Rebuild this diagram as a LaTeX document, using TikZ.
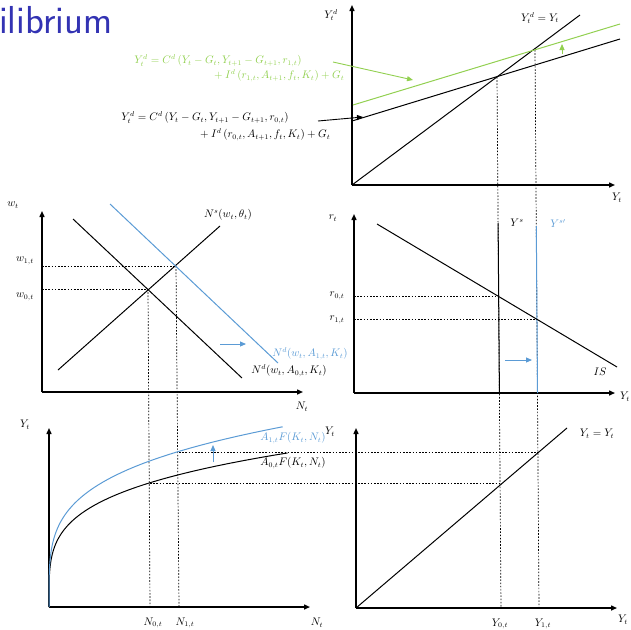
\documentclass[tikz,border=0pt]{standalone}
\usepackage{xcolor}
\usepackage{tikz}
\usetikzlibrary{arrows.meta}

\definecolor{titleblue}{RGB}{51,51,179}
\definecolor{eqgreen}{RGB}{146,208,80}
\definecolor{shiftblue}{RGB}{91,155,213}

\begin{document}
\begin{tikzpicture}[x=1pt,y=-1pt,>={Triangle[length=6pt,width=5pt]},
    axis/.style={->,line width=1.4pt},
    curve/.style={line width=1pt},
    guide/.style={dash pattern=on 1.6pt off 1.6pt,line width=0.7pt},
    shiftarrow/.style={->,line width=0.9pt},
    lbl/.style={font=\fontsize{10.5}{12}\selectfont,inner sep=1pt}]
    \useasboundingbox (0,0) rectangle (631,629);

    \node[anchor=base west,inner sep=0pt,text=titleblue,
      font=\sffamily\fontsize{39}{44}\selectfont] (title) at (-1,33) {ilibrium};

    % guide lines between the panels
    \draw[guide] (148,289) -- (150,607);
    \draw[guide] (176,266) -- (179,607);
    \draw[guide] (497,77) -- (501,608);
    \draw[guide] (535,50) -- (539,608);
    \draw[guide] (42,266) -- (176,266);
    \draw[guide] (42,289) -- (148,289);
    \draw[guide] (354,296) -- (498,296);
    \draw[guide] (354,319) -- (537,319);
    \draw[guide] (179,452) -- (539,452);
    \draw[guide] (150,483) -- (502,483);

    % goods market
    \draw[axis] (352,185) -- (352,5);
    \draw[axis] (352,185) -- (615,185);
    \draw[curve] (352,185) -- (580,15);
    \draw[curve] (352,121) -- (620,39);
    \draw[curve,eqgreen] (353,105) -- (620,24);
    \draw[shiftarrow,eqgreen] (562,54) -- (562,44);
    \draw[shiftarrow,eqgreen] (333,62) -- (413,80);
    \draw[shiftarrow] (318,121) -- (363,117);
    \node[lbl] (ydAxis) at (331,15) {$Y_t^d$};
    \node[lbl] (yAxisA) at (617,198) {$Y_t$};
    \node[lbl] (diag) at (540,18) {$Y_t^d = Y_t$};
    \node[lbl,text=eqgreen] (eqGreenA) at (218,61)
      {$Y_t^d = C^d\left(Y_t - G_t, Y_{t+1} - G_{t+1}, r_{1,t}\right)$};
    \node[lbl,text=eqgreen] (eqGreenB) at (278,76)
      {${}+ I^d\left(r_{1,t}, A_{t+1}, f_t, K_t\right) + G_t$};
    \node[lbl] (eqBlackA) at (205,118)
      {$Y_t^d = C^d\left(Y_t - G_t, Y_{t+1} - G_{t+1}, r_{0,t}\right)$};
    \node[lbl] (eqBlackB) at (264,135)
      {${}+ I^d\left(r_{0,t}, A_{t+1}, f_t, K_t\right) + G_t$};

    % labour market
    \draw[axis] (42,392) -- (42,211);
    \draw[axis] (42,392) -- (303,392);
    \draw[curve] (58,370) -- (220,226);
    \draw[curve] (73,219) -- (242,378);
    \draw[curve,shiftblue] (110,204) -- (278,363);
    \draw[shiftarrow,shiftblue] (220,344) -- (246,344);
    \node[lbl] (wAxis) at (13,205) {$w_t$};
    \node[lbl] (nAxisA) at (302,407) {$N_t$};
    \node[lbl] (wOne) at (25,261) {$w_{1,t}$};
    \node[lbl] (wZero) at (25,297) {$w_{0,t}$};
    \node[lbl] (supply) at (228,215) {$N^s(w_t, \theta_t)$};
    \node[lbl,text=shiftblue] (demandOne) at (310,354) {$N^d(w_t, A_{1,t}, K_t)$};
    \node[lbl] (demandZero) at (289,371) {$N^d(w_t, A_{0,t}, K_t)$};

    % IS and output supply
    \draw[axis] (354,393) -- (354,214);
    \draw[axis] (354,393) -- (615,393);
    \draw[curve] (498.1,223) -- (499.4,393);
    \draw[curve,shiftblue] (536.3,226) -- (537.5,393);
    \draw[curve] (377,224) -- (617,367);
    \draw[shiftarrow,shiftblue] (505,360) -- (532,360);
    \node[lbl] (rAxis) at (333,218) {$r_t$};
    \node[lbl] (yAxisB) at (625,397) {$Y_t$};
    \node[lbl] (rZero) at (337,296) {$r_{0,t}$};
    \node[lbl] (rOne) at (337,320) {$r_{1,t}$};
    \node[lbl] (ysZero) at (517,223) {$Y^s$};
    \node[lbl,text=shiftblue] (ysOne) at (558,224) {$Y^{s\prime}$};
    \node[lbl] (isCurve) at (600,372) {$IS$};

    % production function
    \draw[axis] (49,607) -- (49,428);
    \draw[axis] (49,607) -- (310,607);
    \draw[curve,domain=0:3.93,samples=60] plot ({49+\x^4},{607-39.2*\x});
    \draw[curve,shiftblue,domain=0:3.91,samples=60] plot ({49+\x^4},{607-46.1*\x});
    \draw[shiftarrow,shiftblue] (213,462) -- (213,445);
    \node[lbl] (yAxisC) at (25,425) {$Y_t$};
    \node[lbl] (nAxisB) at (317,623) {$N_t$};
    \node[lbl] (nZero) at (153,623) {$N_{0,t}$};
    \node[lbl] (nOne) at (185,623) {$N_{1,t}$};
    \node[lbl,text=shiftblue] (prodOne) at (293,438) {$A_{1,t}F(K_t, N_t)$};
    \node[lbl] (prodZero) at (293,463) {$A_{0,t}F(K_t, N_t)$};

    % output mirror
    \draw[axis] (356,608) -- (356,428);
    \draw[axis] (356,608) -- (617,608);
    \draw[curve] (356,608) -- (567,428);
    \node[lbl] (yAxisD) at (330,432) {$Y_t$};
    \node[lbl] (mirror) at (597,434) {$Y_t = Y_t$};
    \node[lbl] (yAxisE) at (623,620) {$Y_t$};
    \node[lbl] (yZero) at (500,624) {$Y_{0,t}$};
    \node[lbl] (yOne) at (543,624) {$Y_{1,t}$};
  \end{tikzpicture}
\end{document}
